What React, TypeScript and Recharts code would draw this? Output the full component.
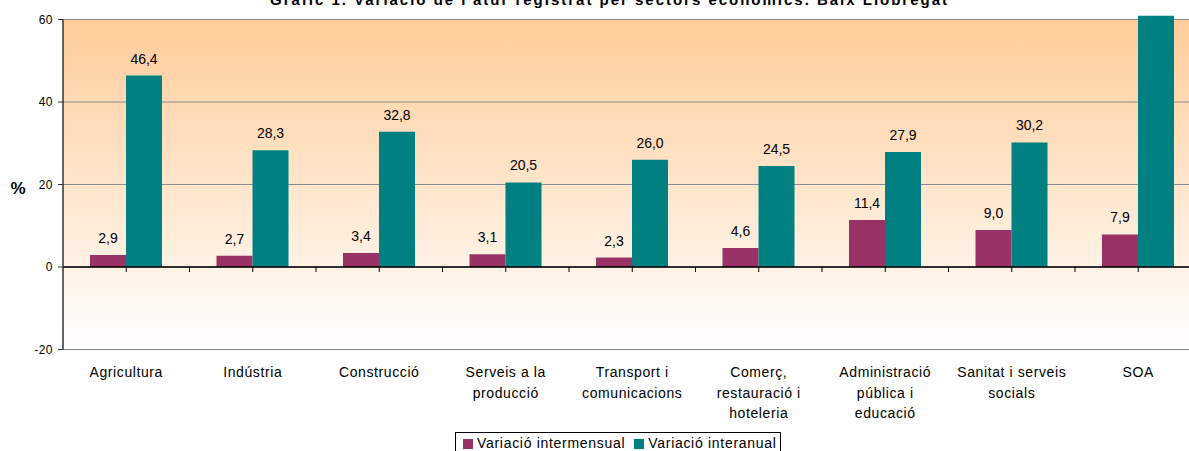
import { Bar, BarChart, CartesianGrid, LabelList, ReferenceLine, XAxis, YAxis } from "recharts";

const sectors = [
  "Agricultura",
  "Indústria",
  "Construcció",
  "Serveis a la\nproducció",
  "Transport i\ncomunicacions",
  "Comerç,\nrestauració i\nhoteleria",
  "Administració\npública i\neducació",
  "Sanitat i serveis\nsocials",
  "SOA",
];
const intermensual = [2.9, 2.7, 3.4, 3.1, 2.3, 4.6, 11.4, 9.0, 7.9];
const interanual = [46.4, 28.3, 32.8, 20.5, 26.0, 24.5, 27.9, 30.2, 60.9];
const yTicks = [-20, 0, 20, 40, 60];

const data = sectors.map((name, i) => ({
  name,
  intermensual: intermensual[i],
  interanual: interanual[i],
}));

const FONT = '"Liberation Sans", Arial, sans-serif';
const MAGENTA = "#993366";
const TEAL = "#008080";

const fmt = (v: number) => v.toFixed(1).replace(".", ",");

// value labels above the bars (the SOA one is outside the picture)
const valueLabel = (props: any) => {
  const { x, y, width, value } = props;
  if (value > 60) return null;
  return (
    <text x={x + width / 2} y={y - 12} textAnchor="middle" fontSize={14} fontFamily={FONT} fill="#000">
      {fmt(value)}
    </text>
  );
};

const SectorTick = (props: any) => {
  const { x, y, payload } = props;
  const lines = String(payload.value).split("\n");
  return (
    <text x={x} y={y} textAnchor="middle" fontSize={14} fontFamily={FONT} fill="#000" letterSpacing={0.6}>
      {lines.map((l, i) => (
        <tspan key={i} x={x} dy={i === 0 ? 27.5 : 20.5}>
          {l}
        </tspan>
      ))}
    </text>
  );
};

// category axis drawn at zero, with tick marks at centres and boundaries
const zeroAxis = (p: any) => {
  const { x1, x2, y1 } = p;
  const step = (x2 - x1) / (sectors.length * 2);
  return (
    <g>
      <line x1={x1} x2={x2} y1={y1} y2={y1} stroke="#000" strokeWidth={1.3} />
      {Array.from({ length: sectors.length * 2 }, (_, i) => (
        <line key={i} x1={x1 + step * (i + 1)} x2={x1 + step * (i + 1)} y1={y1} y2={y1 + 5} stroke="#000" />
      ))}
    </g>
  );
};

export default function App() {
  return (
    <div style={{ position: "absolute", left: 0, top: 0, width: 1189, height: 451, overflow: "hidden", background: "#fff" }}>
      <style>{".recharts-bar-rectangles{clip-path:none !important}"}</style>
      <BarChart
        width={1210}
        height={451}
        data={data}
        margin={{ top: 19.5, right: 8.5, bottom: 0, left: 0 }}
        barGap={0}
        barSize={36}
      >
        <defs>
          <linearGradient id="bgGrad" x1="0" y1="0" x2="0" y2="1">
            <stop offset="0%" stopColor="#FFCC99" />
            <stop offset="100%" stopColor="#FFFFFF" />
          </linearGradient>
        </defs>
        <CartesianGrid vertical={false} stroke="#8c8c8c" fill="url(#bgGrad)" fillOpacity={1} />
        <XAxis
          dataKey="name"
          height={101.5}
          interval={0}
          tickLine={false}
          axisLine={false}
          tickSize={0}
          tickMargin={0}
          tick={<SectorTick />}
        />
        <YAxis
          width={63}
          domain={[-20, 60]}
          ticks={yTicks}
          allowDataOverflow
          tickSize={5}
          tickMargin={5}
          axisLine={{ stroke: "#333", strokeWidth: 1.5 }}
          tickLine={{ stroke: "#333" }}
          tick={{ fontSize: 12, fontFamily: FONT, fill: "#000", letterSpacing: 0.5 }}
        />
        <ReferenceLine y={0} shape={zeroAxis} />
        <Bar dataKey="intermensual" fill={MAGENTA} isAnimationActive={false}>
          <LabelList dataKey="intermensual" content={valueLabel} />
        </Bar>
        <Bar dataKey="interanual" fill={TEAL} isAnimationActive={false}>
          <LabelList dataKey="interanual" content={valueLabel} />
        </Bar>
      </BarChart>

      <svg style={{ position: "absolute", left: 0, top: 0 }} width={1189} height={451} pointerEvents="none">
        <text x={270} y={5} textLength={677} lengthAdjust="spacing" fontSize={15} fontWeight="bold" fontFamily={FONT} fill="#000">
          Gràfic 1. Variació de l'atur registrat per sectors econòmics. Baix Llobregat
        </text>
        <text x={18} y={193.5} textAnchor="middle" fontSize={17} fontWeight="bold" fontFamily={FONT} fill="#000">
          %
        </text>
      </svg>

      <div
        style={{
          position: "absolute",
          left: 455,
          top: 432,
          width: 326,
          height: 30,
          boxSizing: "border-box",
          border: "1px solid #000",
          background: "#fff",
          display: "flex",
          alignItems: "flex-start",
          paddingLeft: 7,
          paddingTop: 2,
          fontFamily: FONT,
          fontSize: 14,
          letterSpacing: 0.7,
          lineHeight: "17px",
          whiteSpace: "nowrap",
        }}
      >
        <span style={{ display: "inline-block", width: 10, height: 10, background: MAGENTA, marginTop: 4, marginRight: 4 }} />
        <span style={{ marginRight: 9 }}>Variació intermensual</span>
        <span style={{ display: "inline-block", width: 10, height: 10, background: TEAL, marginTop: 4, marginRight: 4 }} />
        <span>Variació interanual</span>
      </div>
    </div>
  );
}
